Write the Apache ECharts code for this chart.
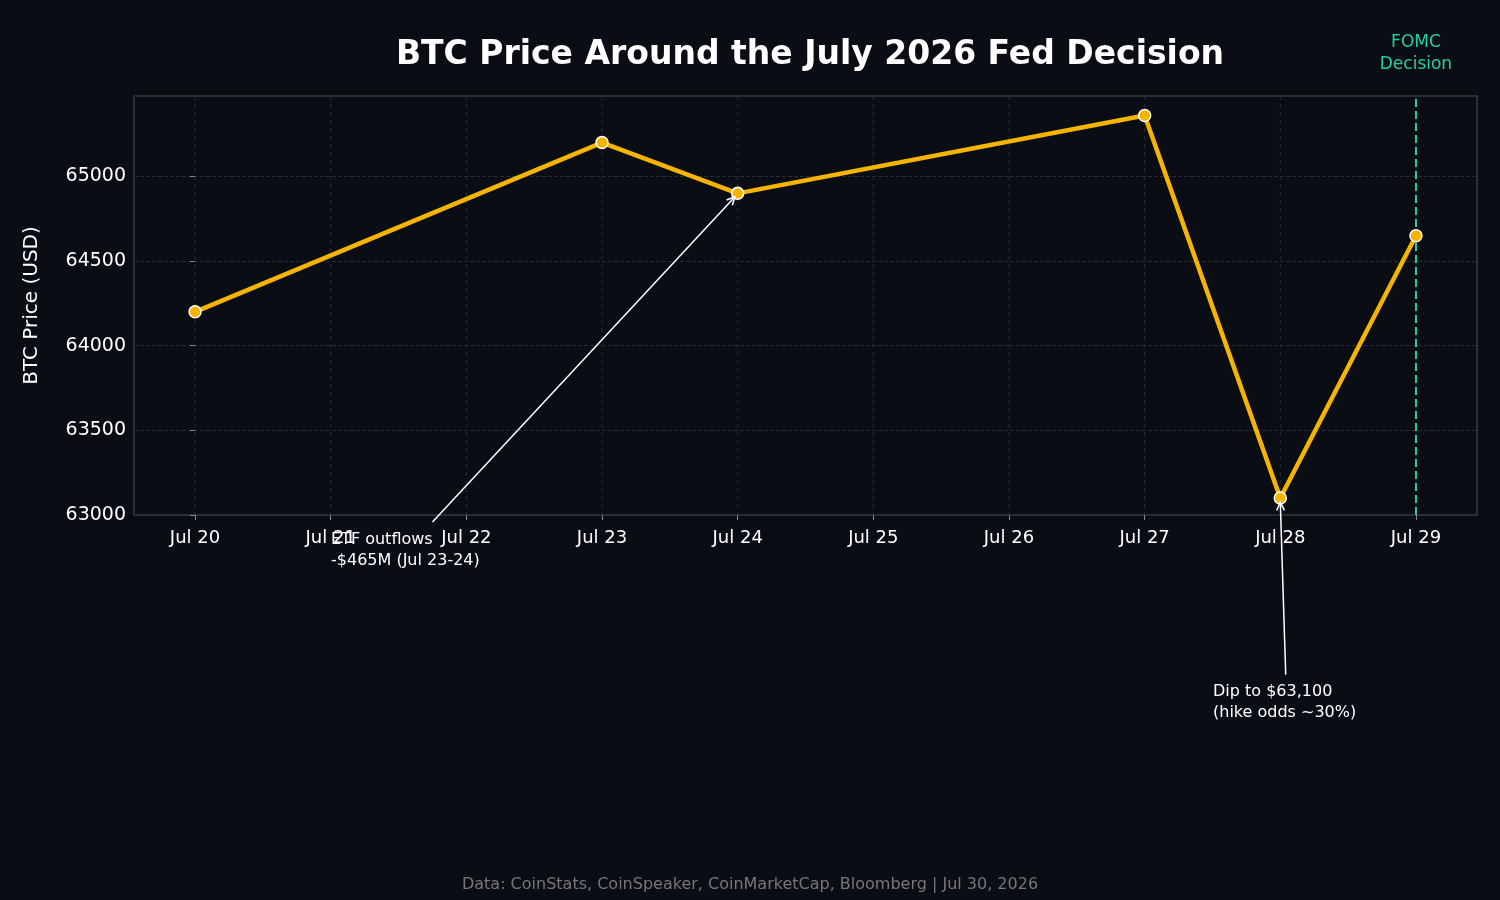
<!DOCTYPE html>
<html><head><meta charset="utf-8">
<script src="https://cdn.jsdelivr.net/npm/echarts@6/dist/echarts.min.js"></script>
<style>html,body{margin:0;background:#0b0d14}#c{width:1500px;height:900px}</style>
</head><body><div id="c"></div>
<script>
const tickLabels = ["Jul 20","Jul 21","Jul 22","Jul 23","Jul 24","Jul 25","Jul 26","Jul 27","Jul 28","Jul 29"];
const dayIndex = [0, 3, 4, 7, 8, 9];
const prices = [64200, 65200, 64900, 65360, 63100, 64650];
const tickPos = tickLabels.map((_, i) => i);
const chart = echarts.init(document.getElementById('c'));
const F = 'DejaVu Sans';
chart.setOption({
  backgroundColor: '#0b0d14',
  animation: false,
  title: {text: 'BTC Price Around the July 2026 Fed Decision', left: 805, top: 34, textAlign: 'center',
    textStyle: {color: '#fff', fontSize: 33, fontWeight: 'bold', fontFamily: F}},
  grid: {left: 134, right: 23, top: 96, bottom: 385, show: true, borderColor: '#3a3a3a', borderWidth: 1.5, backgroundColor: 'transparent'},
  xAxis: {type: 'value', min: -0.45, max: 9.45,
    axisLine: {show: false}, axisTick: {show: true, customValues: tickPos, lineStyle: {color: '#888'}},
    axisLabel: {color: '#fff', fontSize: 18, fontFamily: F, margin: 14, customValues: tickPos,
      formatter: v => tickLabels[Math.round(v)] || ''},
    splitLine: {show: false}},
  yAxis: {type: 'value', min: 63000, max: 65475, interval: 500,
    name: 'BTC Price (USD)', nameLocation: 'middle', nameGap: 92, nameTextStyle: {color: '#fff', fontSize: 20, fontFamily: F},
    axisLine: {show: false}, axisTick: {show: true, lineStyle: {color: '#888'}},
    axisLabel: {color: '#fff', fontSize: 19, fontFamily: F, showMaxLabel: false, formatter: v => String(v)},
    splitLine: {show: true, lineStyle: {color: '#2a2c33', type: 'dashed'}}},
  series: [{
    type: 'line', data: dayIndex.map((d, i) => [d, prices[i]]), clip: false,
    lineStyle: {color: '#f5b400', width: 4.5}, itemStyle: {color: '#f5b400', borderColor: '#fff', borderWidth: 1.5},
    symbol: 'circle', symbolSize: 12, z: 5,
    markLine: {silent: true, symbol: 'none', animation: false,
      lineStyle: {color: '#1fd1a5', type: 'dashed', width: 2},
      label: {show: true, position: 'end', formatter: 'FOMC\nDecision', color: '#1fd1a5', fontSize: 17, fontFamily: F, distance: 20, lineHeight: 22},
      data: [{xAxis: 9}]}
  }]
});
const px = (x, y) => chart.convertToPixel({gridIndex: 0}, [x, y]);
const vlines = tickPos.map(i => {
  const a = px(i, 65475), b = px(i, 63000);
  return {type: 'line', shape: {x1: a[0], y1: a[1], x2: b[0], y2: b[1]}, style: {stroke: '#2a2c33', lineDash: [4, 4], lineWidth: 1}, z: 0};
});
function arrow(from, to) {
  const a = px(from[0], from[1]), b = px(to[0], to[1]);
  const ang = Math.atan2(b[1] - a[1], b[0] - a[0]), L = 9;
  return [
    {type: 'line', shape: {x1: a[0], y1: a[1], x2: b[0], y2: b[1]}, style: {stroke: '#fff', lineWidth: 1.5}, z: 10},
    {type: 'polyline', shape: {points: [[b[0] - L * Math.cos(ang - 0.45), b[1] - L * Math.sin(ang - 0.45)], b, [b[0] - L * Math.cos(ang + 0.45), b[1] - L * Math.sin(ang + 0.45)]]}, style: {stroke: '#fff', lineWidth: 1.5, fill: null}, z: 10}
  ];
}
chart.setOption({graphic: [
  ...vlines,
  ...arrow([1.75, 62959], [3.98, 64880]),
  ...arrow([8.04, 62056], [8.0, 63075]),
  {type: 'text', left: 331, top: 529, style: {text: 'ETF outflows\n-$465M (Jul 23-24)', fill: '#fff', font: '16px DejaVu Sans', lineHeight: 21}, z: 11},
  {type: 'text', left: 1213, top: 681, style: {text: 'Dip to $63,100\n(hike odds ~30%)', fill: '#fff', font: '16px DejaVu Sans', lineHeight: 21}, z: 11},
  {type: 'text', x: 750, y: 877, style: {text: 'Data: CoinStats, CoinSpeaker, CoinMarketCap, Bloomberg | Jul 30, 2026', fill: '#777', font: '16px DejaVu Sans', textAlign: 'center'}}
]});
</script></body></html>
